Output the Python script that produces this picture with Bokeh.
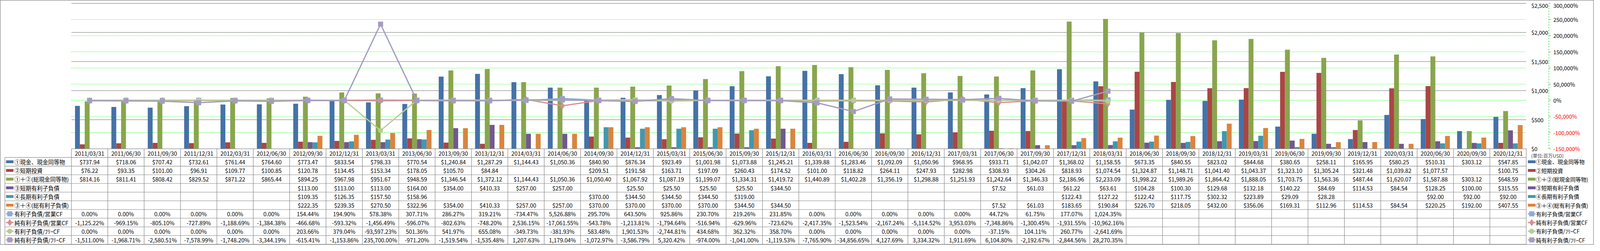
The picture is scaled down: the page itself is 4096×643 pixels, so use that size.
import numpy as np
from bokeh.plotting import figure
from bokeh.models import Range1d, ColumnDataSource
from bokeh.core.properties import value
from bokeh.transform import dodge
from bokeh.embed import file_html
from bokeh.resources import INLINE

# ---------------- data ----------------
dates = ["2011/03/31", "2011/06/30", "2011/09/30", "2011/12/31", "2012/03/31", "2012/06/30",
         "2012/09/30", "2012/12/31", "2013/03/31", "2013/06/30", "2013/09/30", "2013/12/31",
         "2014/03/31", "2014/06/30", "2014/09/30", "2014/12/31", "2015/03/31", "2015/06/30",
         "2015/09/30", "2015/12/31", "2016/03/31", "2016/06/30", "2016/09/30", "2016/12/31",
         "2017/03/31", "2017/06/30", "2017/09/30", "2017/12/31", "2018/03/31", "2018/06/30",
         "2018/09/30", "2018/12/31", "2019/03/31", "2019/06/30", "2019/09/30", "2019/12/31",
         "2020/03/31", "2020/06/30", "2020/09/30", "2020/12/31"]

cash = [737.94, 718.06, 707.42, 732.61, 761.44, 764.60, 773.47, 833.54, 798.33, 770.54,
        1240.84, 1287.29, 1144.43, 1050.36, 840.90, 876.34, 923.49, 1001.98, 1073.88, 1245.21,
        1339.88, 1283.46, 1092.09, 1050.96, 968.95, 933.71, 1042.07, 1368.02, 1158.55, 673.35,
        840.55, 823.02, 844.68, 380.65, 258.11, 165.95, 580.25, 510.31, 303.12, 547.85]
short_inv = [76.22, 93.35, 101.00, 96.91, 109.77, 100.85, 120.78, 134.45, 153.34, 178.05,
             105.70, 84.84, None, None, 209.51, 191.58, 163.71, 197.09, 260.43, 174.52,
             101.00, 118.82, 264.11, 247.93, 282.98, 308.93, 304.26, 818.93, 1074.54, 1324.87,
             1148.71, 1041.40, 1043.37, 1323.10, 1305.24, 321.48, 1039.82, 1077.57, None, 100.75]
total_cash = [814.16, 811.41, 808.42, 829.52, 871.22, 865.44, 894.25, 967.98, 951.67, 948.59,
              1346.54, 1372.12, 1144.43, 1050.36, 1050.40, 1067.92, 1087.19, 1199.07, 1334.31, 1419.72,
              1440.89, 1402.28, 1356.19, 1298.88, 1251.93, 1242.64, 1346.33, 2186.96, 2233.09, 1998.22,
              1989.26, 1864.42, 1888.05, 1703.75, 1563.36, 487.44, 1620.07, 1587.88, 303.12, 648.59]
short_debt = [None, None, None, None, None, None, 113.00, 113.00, 113.00, 164.00,
              354.00, 410.33, 257.00, 257.00, None, 25.50, 25.50, 25.50, 25.50, 344.50,
              None, None, None, None, None, 7.52, 61.03, 61.22, 63.61, 104.28,
              100.30, 129.68, 132.18, 140.22, 84.69, 114.53, 84.54, 128.25, 100.00, 315.55]
long_debt = [None, None, None, None, None, None, 109.35, 126.35, 157.50, 158.96,
             None, None, None, None, 370.00, 344.50, 344.50, 344.50, 319.00, None,
             None, None, None, None, None, None, None, 122.43, 127.22, 122.42,
             117.75, 302.32, 223.89, 29.09, 28.28, None, None, 92.00, 92.00, 92.00]
total_debt = [None, None, None, None, None, None, 222.35, 239.35, 270.50, 322.96,
              354.00, 410.33, 257.00, 257.00, 370.00, 370.00, 370.00, 370.00, 344.50, 344.50,
              None, None, None, None, None, 7.52, 61.03, 183.65, 190.84, 226.70,
              218.05, 432.00, 356.06, 169.31, 112.96, 114.53, 84.54, 220.25, 192.00, 407.55]

debt_ocf = [0.00, 0.00, 0.00, 0.00, 0.00, 0.00, 154.44, 194.90, 578.38, 307.71,
            286.27, 319.21, -734.47, 5526.88, 295.70, 643.50, 925.86, 230.70, 219.26, 231.85,
            0.00, 0.00, 0.00, 0.00, 0.00, 44.72, 61.75, 177.07, 1024.35] + [None] * 11
net_ocf = [-1125.22, -969.15, -805.10, -727.89, -1188.69, -1384.38, -466.68, -593.32, -1456.49, -596.07,
           -802.63, -748.20, 2536.15, -17061.55, -543.78, -1213.81, -1794.64, -516.94, -629.96, -723.62,
           -2417.35, -1523.54, -2167.24, -5114.52, 3953.03, -7348.86, -1300.45, -1931.55, -10962.16] + [None] * 11
debt_fcf = [0.00, 0.00, 0.00, 0.00, 0.00, 0.00, 203.66, 379.04, -93597.23, 501.36,
            541.97, 655.08, -349.73, -381.93, 583.48, 1901.53, -2744.81, 434.68, 362.32, 358.70,
            0.00, 0.00, 0.00, 0.00, 0.00, -37.15, 104.11, 260.77, -2641.69] + [None] * 11
net_fcf = [-1511.00, -1968.71, -2580.51, -7578.99, -1748.20, -3344.19, -615.41, -1153.86, 235700.00, -971.20,
           -1519.54, -1535.48, 1207.63, 1179.04, -1072.97, -3586.79, 5320.42, -974.00, -1041.00, -1119.53,
           -7765.90, -34856.65, 4127.69, 3334.32, 1911.69, 6104.80, -2192.67, -2844.56, 28270.35] + [None] * 11

row_labels = ["①現金、現金同等物", "②短期投資", "①＋②(総現金同等物)", "③短期有利子負債",
              "④長期有利子負債", "③＋④(総有利子負債)", "有利子負債/営業CF", "純有利子負債/営業CF",
              "有利子負債/ﾌﾘｰCF", "純有利子負債/ﾌﾘｰCF"]
unit_label = "(単位:百万USD)"
usd_ticks = [0, 500, 1000, 1500, 2000, 2500]
usd_tick_labels = ["$0", "$500", "$1,000", "$1,500", "$2,000", "$2,500"]
pct_ticks = [-150000, -100000, -50000, 0, 50000, 100000, 150000, 200000, 250000, 300000]
pct_tick_labels = ["-150,000%", "-100,000%", "-50,000%", "0%", "50,000%", "100,000%",
                   "150,000%", "200,000%", "250,000%", "300,000%"]

# ---------------- layout (reference pixels -> output) ----------------
REF_W, REF_H = 6826, 1071
OUT_W, OUT_H = 4080, 627
PL, PR, PT, PB = 305, 6536, 14, 650          # plot area in reference px
N = len(dates)
CW = (PR - PL) / N                            # column width (ref px)
RH = 38.0                                     # table row height (ref px)
Y_MAX = 2500.0
P_MIN, P_MAX = -150000.0, 300000.0
usd_per_px = Y_MAX / (PB - PT)
pct_per_px = (P_MAX - P_MIN) / (PB - PT)


def xr(px):
    return (px - PL) / CW - 0.5


def rr(py):
    return (py - PB) / RH - 0.5


FONT = value("Noto Sans CJK JP")
FS = value("14.4px")
FS_AX = value("14px")
FS_LEG = value("13.8px")

BAR_COLORS = ["#4572A7", "#AA4643", "#89A54E", "#71588F", "#4198AF", "#DB843D"]
LINE_STYLE = [("#8FA9D6", "square", 12), ("#D6908E", "diamond", 17),
              ("#B8CC94", "circle", 12), ("#A69BC1", "square", 12)]
GRID_GRAY = "#868686"


def arr(lst):
    return np.array([np.nan if v is None else v for v in lst], dtype=float)


bar_series = [cash, short_inv, total_cash, short_debt, long_debt, total_debt]
line_series = [debt_ocf, net_ocf, debt_fcf, net_fcf]

data = dict(x=list(range(N)))
for k, s in enumerate(bar_series):
    data[f"b{k}"] = arr(s)
for k, s in enumerate(line_series):
    data[f"l{k}"] = arr(s)
src = ColumnDataSource(data)

p = figure(width=OUT_W, height=OUT_H, output_backend="svg", toolbar_location=None,
           x_range=Range1d(xr(0), xr(REF_W)),
           y_range=Range1d(-(REF_H - PB) * usd_per_px, Y_MAX + PT * usd_per_px),
           x_axis_location=None, y_axis_location=None, min_border=0)
p.extra_y_ranges = {
    "pct": Range1d(P_MIN - (REF_H - PB) * pct_per_px, P_MAX + PT * pct_per_px),
    "row": Range1d(rr(REF_H), rr(0)),
}
p.grid.grid_line_color = None
p.background_fill_color = "white"
p.border_fill_color = "white"
p.outline_line_color = GRID_GRAY
p.outline_line_width = 1.5

# ---------------- gridlines ----------------
gx0, gx1 = -0.5, N - 0.5
pct_grid = [t for t in pct_ticks if P_MIN < t < P_MAX]
p.segment(x0=[gx0] * len(pct_grid), x1=[gx1] * len(pct_grid), y0=pct_grid, y1=pct_grid,
          y_range_name="pct", line_color="#00FF00", line_width=1.1, line_dash="2 2")
usd_grid = [t for t in usd_ticks if t > 0]
p.segment(x0=[gx0] * len(usd_grid), x1=[gx1] * len(usd_grid), y0=usd_grid, y1=usd_grid,
          line_color=GRID_GRAY, line_width=1.3)

# ---------------- bars ----------------
BW = 20.8 / CW
for k, c in enumerate(BAR_COLORS):
    off = -2.5 * BW + k * BW
    p.vbar(x=dodge("x", off, range=p.x_range), top=f"b{k}", bottom=0, width=BW,
           source=src, fill_color=c, line_color=None)

# ---------------- ratio lines ----------------
for k, (c, m, sz) in enumerate(LINE_STYLE):
    p.line(x="x", y=f"l{k}", source=src, y_range_name="pct", line_color=c, line_width=3.2)
    p.scatter(x="x", y=f"l{k}", source=src, y_range_name="pct", marker=m, size=sz,
              fill_color=c, line_color=c)

# ---------------- right axes (as text on the scales) ----------------
usd_off = [5 if t == max(usd_ticks) else 0 for t in usd_ticks]
p.text(x=[xr(6558)] * len(usd_ticks), y=usd_ticks, text=usd_tick_labels, y_offset=usd_off,
       text_font=FONT, text_font_size=FS_AX, text_align="left", text_baseline="middle",
       text_color="#000000")
pct_colors = ["#FF0000" if t < 0 else "#000000" for t in pct_ticks]
pct_off = [5 if t == max(pct_ticks) else 0 for t in pct_ticks]
p.text(x=[xr(6652)] * len(pct_ticks), y=pct_ticks, text=pct_tick_labels, y_offset=pct_off,
       text_font=FONT, text_font_size=FS_AX, text_align="left", text_baseline="middle",
       text_color=pct_colors, y_range_name="pct")
p.segment(x0=[xr(6633)], x1=[xr(6633)], y0=[P_MIN], y1=[P_MAX], y_range_name="pct",
          line_color="#00CC00", line_width=1, line_dash="4 3")
p.segment(x0=[xr(6633)] * len(pct_ticks), x1=[xr(6641)] * len(pct_ticks),
          y0=pct_ticks, y1=pct_ticks, y_range_name="pct", line_color="#00CC00", line_width=1)

# ---------------- data table ----------------
n_rows = len(row_labels)
hy = [r + 0.5 for r in range(0, n_rows + 1)]
p.segment(x0=[xr(20)] * len(hy), x1=[gx1] * len(hy), y0=hy, y1=hy, y_range_name="row",
          line_color=GRID_GRAY, line_width=1.2)
p.segment(x0=[gx0], x1=[gx1], y0=[-0.5], y1=[-0.5], y_range_name="row",
          line_color=GRID_GRAY, line_width=1.2)
vx = [k - 0.5 for k in range(N + 1)]
p.segment(x0=vx, x1=vx, y0=[-0.5] * len(vx), y1=[n_rows + 0.5] * len(vx), y_range_name="row",
          line_color=GRID_GRAY, line_width=1.2)
p.segment(x0=[xr(20)], x1=[xr(20)], y0=[0.5], y1=[n_rows + 0.5], y_range_name="row",
          line_color=GRID_GRAY, line_width=1.2)

p.text(x=list(range(N)), y=[0] * N, text=dates, y_range_name="row", text_font=FONT,
       text_font_size=FS, text_align="center", text_baseline="middle", text_color="#000000")


def fmt_usd(v):
    return "" if v is None else f"${v:,.2f}"


def fmt_pct(v):
    return "" if v is None else f"{v:,.2f}%"


tx, ty, tt = [], [], []
for r, s in enumerate(bar_series):
    for i, v in enumerate(s):
        if v is not None:
            tx.append(i); ty.append(r + 1); tt.append(fmt_usd(v))
for r, s in enumerate(line_series):
    for i, v in enumerate(s):
        if v is not None:
            tx.append(i); ty.append(r + 7); tt.append(fmt_pct(v))
p.text(x=tx, y=ty, text=tt, y_range_name="row", text_font=FONT, text_font_size=FS,
       text_align="center", text_baseline="middle", text_color="#000000")


def legend_block(kx0, kx1, tx0, fs):
    bar_rows = list(range(1, 7))
    p.rect(x=[(xr(kx0) + xr(kx1)) / 2] * 6, y=bar_rows, width=(kx1 - kx0) / CW,
           height=12.5 / RH, y_range_name="row", fill_color=BAR_COLORS, line_color=None)
    for k, (c, m, sz) in enumerate(LINE_STYLE):
        r = 7 + k
        p.segment(x0=[xr(kx0)], x1=[xr(kx1)], y0=[r], y1=[r], y_range_name="row",
                  line_color=c, line_width=3.2)
        p.scatter(x=[(xr(kx0) + xr(kx1)) / 2], y=[r], y_range_name="row", marker=m,
                  size=sz, fill_color=c, line_color=c)
    p.text(x=[xr(tx0)] * n_rows, y=list(range(1, n_rows + 1)), text=row_labels,
           y_range_name="row", text_font=FONT, text_font_size=fs, text_align="left",
           text_baseline="middle", text_color="#000000")


legend_block(25, 57, 61, FS)
legend_block(6543, 6576, 6578, FS_LEG)

p.text(x=[xr(6557)], y=[rr(679)], text=[unit_label], y_range_name="row", text_font=FONT,
       text_font_size=value("12px"), text_align="left", text_baseline="middle",
       text_color="#404040")

open("out.html", "w").write(file_html(p, INLINE))
